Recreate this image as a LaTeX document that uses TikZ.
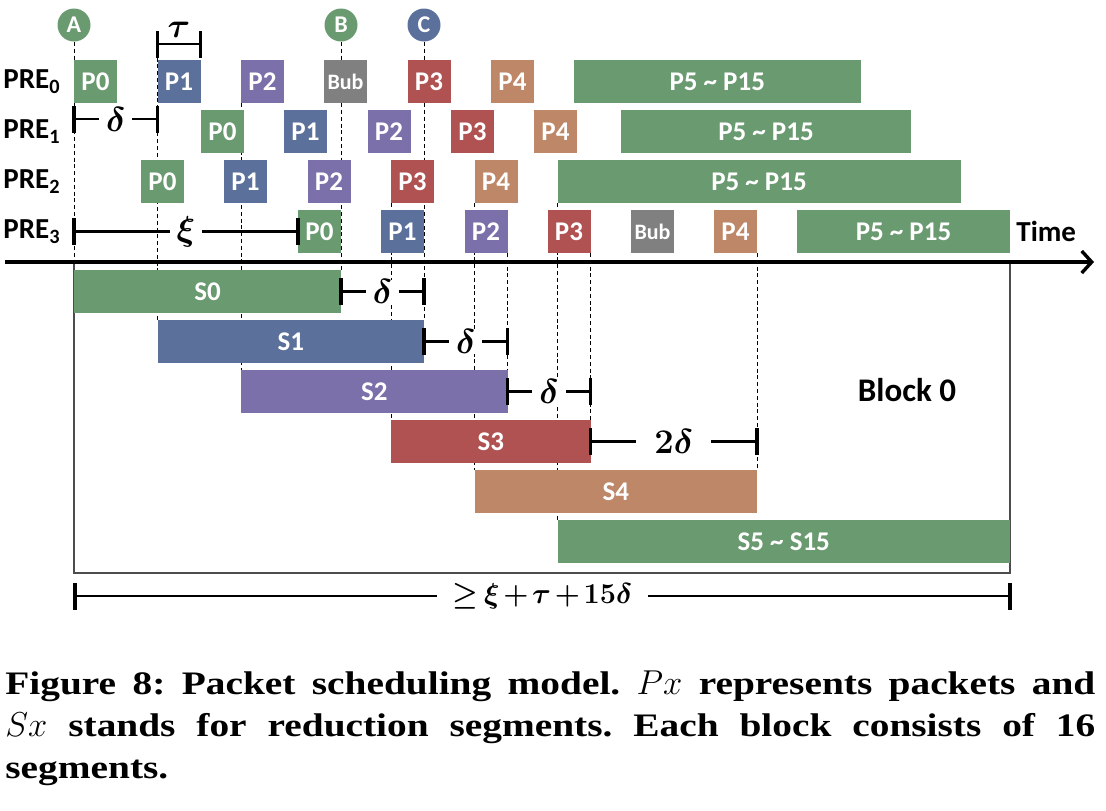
\documentclass[tikz,border=0pt]{standalone}
\usepackage{fontspec}
\setsansfont{Carlito}
\newfontfamily\capfont[FakeStretch=1.2]{Liberation Serif}
\usepackage{amsmath}
\usetikzlibrary{
    arrows.meta,
    backgrounds,
    positioning
}
\definecolor{pktgreen}{RGB}{106,154,112}
\definecolor{pktblue}{RGB}{91,112,154}
\definecolor{pktpurple}{RGB}{124,112,171}
\definecolor{pktgray}{RGB}{128,128,128}
\definecolor{pktred}{RGB}{176,82,82}
\definecolor{pkttan}{RGB}{190,136,104}
\newcommand{\bub}{{\fontsize{11}{13}\selectfont Bub}}
\tikzset{
    % Box styles
    pkt box/.style={
        rectangle,
        inner sep=0pt,
        outer sep=0pt,
        minimum height=21.5pt,
        anchor=west,
        text=white,
        font=\sffamily\bfseries\fontsize{13.5}{16}\selectfont
    },
    mark circle/.style={
        circle,
        fill=#1,
        minimum size=16.5pt,
        inner sep=0pt,
        text=white,
        font=\sffamily\bfseries\fontsize{12}{14}\selectfont
    },
    row label/.style={
        anchor=west,
        inner sep=0pt,
        font=\sffamily\bfseries\fontsize{14.5}{17}\selectfont
    },
    % Line styles
    guide/.style={
        dash pattern=on 2pt off 1.4pt,
        line width=0.5pt
    },
    time axis/.style={
        line width=1.7pt,
        -{Straight Barb[length=5pt,width=11pt]}
    },
    block frame/.style={
        draw=black!70,
        line width=0.7pt
    },
    span bar/.style={
        line width=1.4pt
    },
    tick/.pic={
        \draw[line width=1.8pt] (0,-6.75pt) -- (0,6.75pt);
    },
    gap label/.style={
        fill=white,
        inner sep=0pt,
        inner xsep=3.5pt,
        font=\boldmath\fontsize{16}{19}\selectfont
    }
}

\begin{document}
\begin{tikzpicture}[x=0.5pt, y=-0.5pt]
        \useasboundingbox (0,0) rectangle (1106,810);

        % Time axis and block frame
        \coordinate (ax0) at (5,262);
        \coordinate (ax1) at (1094,262);
        \draw[block frame] (74,262) rectangle (1010,573);
        \draw[time axis] (ax0) -- (ax1);
        \node[row label] (time) at (1016,231.5) {Time};

        % Markers
        \node[mark circle=pktgreen] (markA) at (74,25) {A};
        \node[mark circle=pktgreen] (markB) at (341,25) {B};
        \node[mark circle=pktblue] (markC) at (424,25) {C};

        % Row labels
        \foreach \r in {0,...,3} {
            \node[row label] (pre\r) at (3,81.5+50*\r) {PRE\textsubscript{\r}};
        }

        % Packets of each PRE
        \foreach \x/\w/\t/\c [count=\i from 0] in {74/43/P0/pktgreen, 157.5/43/P1/pktblue, 241/43/P2/pktpurple, 324/43/\bub/pktgray, 407.5/43/P3/pktred, 491/43/P4/pkttan, 574/286.5/P5 \textasciitilde{} P15/pktgreen} {
            \node[pkt box, fill=\c, minimum width=\w*0.5pt] (pre0-\i) at (\x,81.5) {\t};
        }
        \foreach \x/\w/\t/\c [count=\i from 0] in {201/43/P0/pktgreen, 284/43/P1/pktblue, 367.5/43/P2/pktpurple, 451/43/P3/pktred, 534/43/P4/pkttan, 621/290/P5 \textasciitilde{} P15/pktgreen} {
            \node[pkt box, fill=\c, minimum width=\w*0.5pt] (pre1-\i) at (\x,131.5) {\t};
        }
        \foreach \x/\w/\t/\c [count=\i from 0] in {141/43/P0/pktgreen, 224/43/P1/pktblue, 307.5/43/P2/pktpurple, 391/43/P3/pktred, 474.5/43/P4/pkttan, 557.5/403/P5 \textasciitilde{} P15/pktgreen} {
            \node[pkt box, fill=\c, minimum width=\w*0.5pt] (pre2-\i) at (\x,181.5) {\t};
        }
        \foreach \x/\w/\t/\c [count=\i from 0] in {298/43/P0/pktgreen, 381/43/P1/pktblue, 464.5/43/P2/pktpurple, 547.5/43/P3/pktred, 631/43/\bub/pktgray, 714/43/P4/pkttan, 797/213/P5 \textasciitilde{} P15/pktgreen} {
            \node[pkt box, fill=\c, minimum width=\w*0.5pt] (pre3-\i) at (\x,231.5) {\t};
        }

        % Reduction segments
        \foreach \x/\w/\t/\c [count=\i from 0] in {74/267/S0/pktgreen, 157.5/266.5/S1/pktblue, 241/266.5/S2/pktpurple, 391/199.5/S3/pktred, 474.5/282.5/S4/pkttan, 557.5/452.5/S5 \textasciitilde{} S15/pktgreen} {
            \node[pkt box, fill=\c, minimum width=\w*0.5pt] (seg\i) at (\x,291.5+50*\i) {\t};
        }
        \node[row label, anchor=center, font=\sffamily\bfseries\fontsize{16.5}{19}\selectfont] (blk) at (907,390) {Block 0};

        % Guide lines
        \coordinate (tau0) at (157.5,44);
        \coordinate (tau1) at (200.5,44);
        \begin{scope}[on background layer]
            \draw[guide] (markA.south) -- (markA.south |- ax0);
            \draw[guide] (tau0) -- (seg1.north west);
            \draw[guide] (pre0-2.south west) -- (seg2.north west);
            \draw[guide] (markB.south) -- (seg0.north east);
            \draw[guide] (markC.south) -- (seg1.north east);
            \draw[guide] (pre2-3.south west) -- (seg3.north west);
            \draw[guide] (pre2-4.south west) -- (seg4.north west);
            \draw[guide] (pre3-2.south east) -- (seg2.north east);
            \draw[guide] (pre2-5.south west) -- (seg5.north west);
            \draw[guide] (pre3-3.south east) -- (seg3.north east);
            \draw[guide] (pre3-5.south east) -- (seg4.north east);
        \end{scope}

        % Intervals
        \coordinate (d0) at (74,119);
        \coordinate (d1) at (157.5,119);
        \coordinate (xi0) at (74,231.5);
        \coordinate (tot0) at (75,596);
        \coordinate (tot1) at (1010,596);
        \draw[span bar] (tau0) pic{tick} -- node[above=2.5pt, gap label, fill=none] {$\tau$} (tau1) pic{tick};
        \draw[span bar] (d0) pic{tick} -- node[gap label] {$\delta$} (d1) pic{tick};
        \draw[span bar] (xi0) pic{tick} -- node[gap label] {$\xi$} (pre3-0.west) pic{tick};
        \draw[span bar] (seg0.east) pic{tick} -- node[gap label] {$\delta$} (seg0.east -| seg1.east) pic{tick};
        \draw[span bar] (seg1.east) pic{tick} -- node[gap label] {$\delta$} (seg1.east -| seg2.east) pic{tick};
        \draw[span bar] (seg2.east) pic{tick} -- node[gap label] {$\delta$} (seg2.east -| seg3.east) pic{tick};
        \draw[span bar] (seg3.east) pic{tick} -- node[gap label, inner xsep=9pt] {$2\delta$} (seg3.east -| seg4.east) pic{tick};
        \draw[span bar] (tot0) pic{tick} -- node[gap label, inner xsep=8pt, font=\boldmath\fontsize{15}{18}\selectfont]
            {$\medmuskip=2mu\thickmuskip=3mu\geq\xi+\tau+15\delta$} (tot1) pic{tick};

        % Caption
        \node[anchor=north west, inner sep=0pt, text width=545pt, align=justify,
              font=\capfont\bfseries\fontsize{16.4}{21}\selectfont\frenchspacing] (cap) at (5,670.5)
            {Figure 8: Packet scheduling model. $Px$ represents packets and\linebreak
             $Sx$ stands for reduction segments. Each block consists of 16\linebreak
             segments.};
    \end{tikzpicture}
\end{document}
